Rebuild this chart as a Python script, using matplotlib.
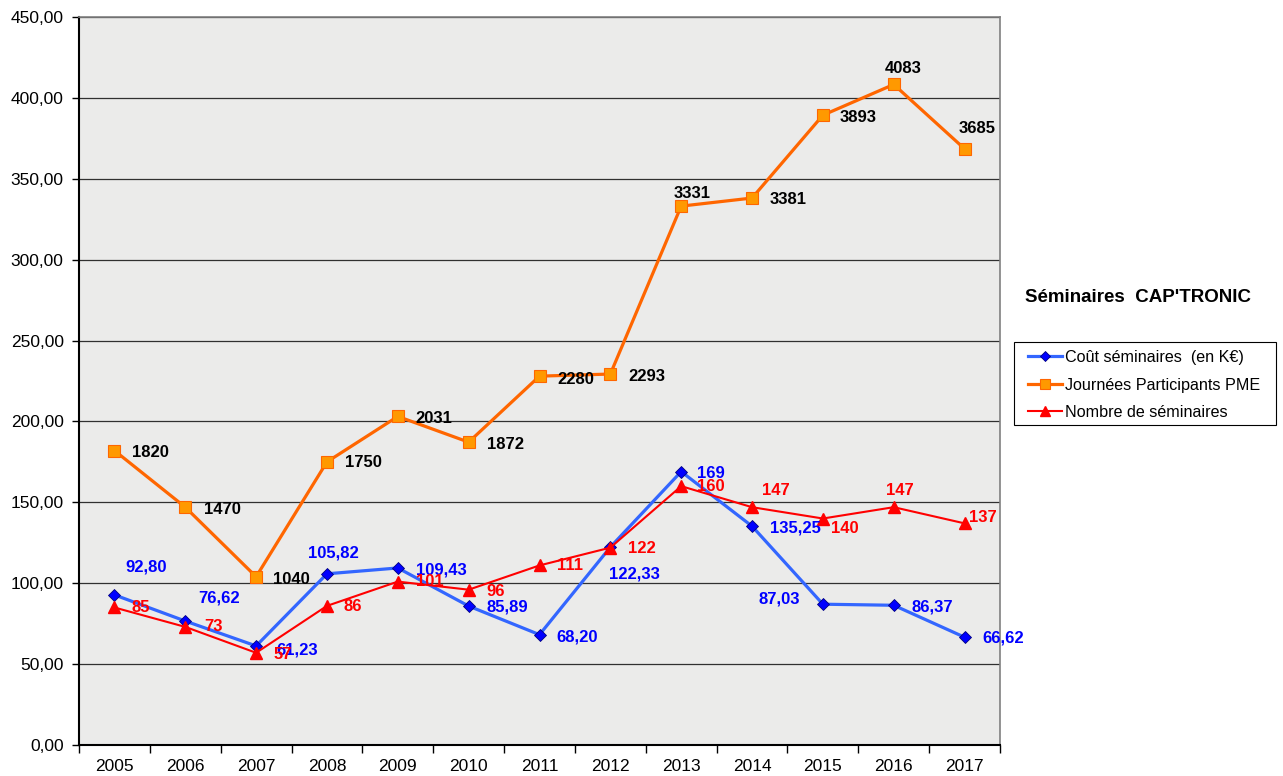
import matplotlib
matplotlib.use('Agg')
import matplotlib.pyplot as plt
from matplotlib.patches import Rectangle
from matplotlib.ticker import FuncFormatter, MultipleLocator, FixedLocator

plt.rcParams['font.family'] = ['Liberation Sans', 'DejaVu Sans']

annees = ['2005', '2006', '2007', '2008', '2009', '2010', '2011', '2012',
          '2013', '2014', '2015', '2016', '2017']
cout = [92.80, 76.62, 61.23, 105.82, 109.43, 85.89, 68.20, 122.33,
        169, 135.25, 87.03, 86.37, 66.62]
cout_labels = ['92,80', '76,62', '61,23', '105,82', '109,43', '85,89', '68,20',
               '122,33', '169', '135,25', '87,03', '86,37', '66,62']
journees = [1820, 1470, 1040, 1750, 2031, 1872, 2280, 2293,
            3331, 3381, 3893, 4083, 3685]
nb_seminaires = [85, 73, 57, 86, 101, 96, 111, 122, 160, 147, 140, 147, 137]

# decalage des etiquettes (en pixels)
off_cout = [(32, 28), (34, 23), (41, -4), (6, 21), (44, -2), (39, -1), (38, -2),
            (24, -27), (30, -2), (43, -2), (-44, 5), (39, -2), (39, -1)]
off_nb = [(26, 0), (28, 0), (27, -2), (26, -1), (32, 0), (27, -2), (31, 0),
          (32, -1), (30, 0), (24, 17), (22, -10), (6, 17), (18, 6)]
off_journees = [(36, -2), (37, -2), (35, -3), (36, -1), (36, -2), (37, -2), (36, -3),
                (37, -2), (11, 13), (36, -1), (35, -2), (9, 16), (13, 20)]

x = list(range(len(annees)))
journees_plot = [v / 10 for v in journees]

W, H = 1283, 776
fig = plt.figure(figsize=(W / 100, H / 100), dpi=100)
ax = fig.add_axes([79 / W, 31 / H, 921 / W, 728 / H])
ax.set_facecolor('#ebebea')

ax.plot(x, cout, color='#3366ff', lw=2.3, marker='D', ms=6.5,
        mfc='#0000ff', mec='#000080', mew=0.6, label='Coût séminaires  (en K€)', zorder=4)
ax.plot(x, journees_plot, color='#ff6600', lw=2.3, marker='s', ms=8.5,
        mfc='#ff9900', mec='#ff6600', mew=0.8, label='Journées Participants PME', zorder=3)
ax.plot(x, nb_seminaires, color='#ff0000', lw=1.5, marker='^', ms=9,
        mfc='#ff0000', mec='#ff0000', label='Nombre de séminaires', zorder=5)

for i in x:
    ax.annotate(cout_labels[i], (i, cout[i]), xytext=off_cout[i], textcoords='offset pixels',
                ha='center', va='center', color='#0000ff', fontsize=12, fontweight='bold', zorder=6)
    ax.annotate(str(nb_seminaires[i]), (i, nb_seminaires[i]), xytext=off_nb[i],
                textcoords='offset pixels', ha='center', va='center', color='#ff0000',
                fontsize=12, fontweight='bold', zorder=6)
    ax.annotate(str(journees[i]), (i, journees_plot[i]), xytext=off_journees[i],
                textcoords='offset pixels', ha='center', va='center', color='black',
                fontsize=12, fontweight='bold', zorder=6)

ax.set_xlim(-0.5, len(annees) - 0.5)
ax.set_ylim(0, 450)
ax.yaxis.set_major_locator(MultipleLocator(50))
ax.yaxis.set_major_formatter(FuncFormatter(lambda v, p: f'{v:.2f}'.replace('.', ',')))
ax.grid(axis='y', color='#303030', lw=0.9, zorder=1)
ax.set_axisbelow(True)

ax.set_xticks(x)
ax.set_xticklabels(annees)
ax.xaxis.set_minor_locator(FixedLocator([i - 0.5 for i in range(len(annees) + 1)]))
ax.tick_params(axis='x', which='major', length=0, pad=10, labelsize=12.5)
ax.tick_params(axis='x', which='minor', length=6, width=1, color='black')
ax.tick_params(axis='y', length=5, width=1, pad=6, labelsize=12.5)

ax.spines['left'].set_linewidth(1.5)
ax.spines['bottom'].set_linewidth(1.5)
ax.spines['right'].set_color('#808080')
ax.spines['top'].set_color('#808080')
ax.spines['right'].set_linewidth(1.2)
ax.spines['top'].set_linewidth(1.2)

fig.text(1138 / W, 1 - 297 / H, "Séminaires  CAP'TRONIC", ha='center', va='center',
         fontsize=13.5, fontweight='bold')

# cadre de la legende
fig.patches.append(Rectangle((1014 / W, 1 - 425 / H), 262 / W, 83 / H,
                             transform=fig.transFigure, facecolor='white',
                             edgecolor='black', lw=0.8))
leg = fig.legend(loc='upper left', bbox_to_anchor=(1028 / W, 1 - 350 / H),
                 borderaxespad=0, borderpad=0, fontsize=11.6, frameon=False,
                 handlelength=2.1, handletextpad=0.2, labelspacing=0.78,
                 markerscale=0.85)

fig.savefig('out.png', dpi=100)
